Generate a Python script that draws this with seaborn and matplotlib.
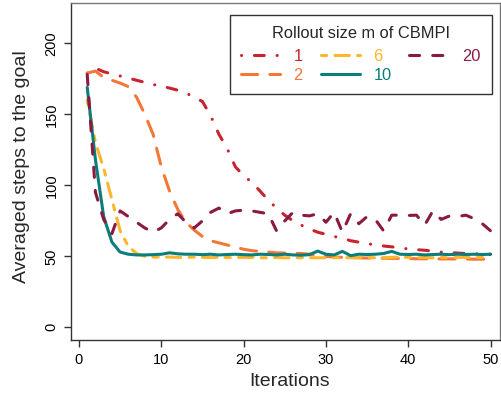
import numpy as np
import pandas as pd
import matplotlib
matplotlib.use("Agg")
import matplotlib.pyplot as plt
from matplotlib.lines import Line2D
import seaborn as sns

# ---- data ----
iterations = list(range(1, 51))
m_labels = ["1", "2", "6", "10", "20"]

m1 = [179, 182.5, 180, 178.5, 177, 175.5, 174, 172.5, 171, 170,
      168.5, 167, 165, 162, 159, 149, 136, 126, 113, 107,
      102, 96, 89.5, 84, 79, 75, 72, 69.3, 67, 65.5,
      64, 62.8, 61, 60, 59, 58, 57.3, 56.7, 56, 55.2,
      54.7, 54.3, 53.7, 53, 52.7, 52.3, 52, 51.8, 51.6, 51.5]
m2 = [179, 180.5, 176, 174, 172, 169.5, 162, 150, 136, 113,
      96, 83, 74, 68.5, 64, 61, 59.5, 58, 56.5, 55,
      54, 53.5, 53, 52.5, 52.3, 52.2, 52, 51.5, 51, 50,
      49.5, 49.3, 49, 49, 48.8, 48.7, 48.7, 48.6, 48.5, 48.5,
      48.3, 48.3, 48.2, 48.2, 48.2, 48.2, 48.1, 48, 48, 48]
m6 = [160, 130, 112, 90, 68, 57, 52, 50, 49.5, 49.5,
      49.5, 49.3, 49.3, 49.5, 49.3, 49.2, 49.3, 49.2, 49.2, 49.3,
      49.2, 49, 49, 49.2, 49, 49, 49, 49.1, 49, 49,
      49, 49.2, 49, 49.3, 49.2, 49, 49, 49.3, 49.5, 49.3,
      49, 49.2, 49, 49.2, 49, 49.3, 49.2, 49.3, 49.2, 49.5]
m10 = [169, 118, 78, 60, 53, 51.5, 51, 51, 51.2, 51.5,
       52.5, 51.8, 51.5, 51.5, 51.2, 51.5, 51, 51.3, 51.5, 51.2,
       51, 51.5, 51.3, 51, 51.5, 51, 50.8, 51.2, 53.7, 51.5,
       51, 53.5, 50.5, 51.5, 51.3, 51.5, 52, 53.5, 51.5, 51.3,
       51.5, 51, 51.3, 51.5, 51.2, 51.5, 51.3, 51.5, 51.3, 51.5]
m20 = [178, 95, 76, 66, 82, 78, 74, 70, 67, 70,
       76, 80, 74, 70, 75, 81, 84, 80, 82, 82.5,
       82, 81, 80, 68, 75, 81, 79, 78.5, 80, 74,
       81, 67, 80, 73, 78, 76, 68, 79, 79, 78.8,
       79, 72, 82, 76, 78.4, 78, 79, 76.5, 73, 68]

series = {"1": m1, "2": m2, "6": m6, "10": m10, "20": m20}

colors = {"1": "#C8232E", "2": "#F37736", "6": "#FDB52B",
          "10": "#0B7D7A", "20": "#8A1B40"}
dashes = {"1": (0.05, 4.2, 3.2, 4.2),
          "2": (5.3, 4.0),
          "6": (1.7, 2.7, 4.7, 2.7),
          "10": "",
          "20": (3.3, 4.3)}

df = pd.concat([pd.DataFrame({"Iteration": iterations, "Steps": v, "m": k})
                for k, v in series.items()], ignore_index=True)

# ---- style ----
sns.set_style("ticks")
plt.rcParams["font.family"] = ["Liberation Sans", "DejaVu Sans"]
plt.rcParams["lines.dash_capstyle"] = "round"
plt.rcParams["lines.solid_capstyle"] = "round"

W, H = 501, 396
fig = plt.figure(figsize=(W / 100, H / 100), dpi=100)
L, R, T, B = 71, 500, 3, 340
ax = fig.add_axes([L / W, 1 - B / H, (R - L) / W, (B - T) / H])

lw = 2.2
sns.lineplot(data=df, x="Iteration", y="Steps", hue="m", style="m",
             hue_order=m_labels, style_order=m_labels,
             palette=colors, dashes=dashes, linewidth=lw,
             legend=False, ax=ax)

ax.set_xlim(-0.97, 51.15)
ax.set_ylim(-8.9, 228.4)
ax.set_xticks([0, 10, 20, 30, 40, 50])
ax.set_yticks([0, 50, 100, 150, 200])
ax.tick_params(axis="both", direction="out", length=5, width=1.0,
               colors="#333333", labelsize=10.5, labelcolor="black")
ax.tick_params(axis="x", pad=4)
ax.tick_params(axis="y", pad=4)
for lab in ax.get_yticklabels():
    lab.set_rotation(90)
    lab.set_va("center")

for side in ["left", "bottom"]:
    ax.spines[side].set_color("#333333")
    ax.spines[side].set_linewidth(1.0)
for side in ["top", "right"]:
    ax.spines[side].set_color("#777777")
    ax.spines[side].set_linewidth(1.0)

ax.set_xlabel("Iterations", fontsize=14)
ax.set_ylabel("Averaged steps to the goal", fontsize=14)
ax.xaxis.set_label_coords((290 - L) / (R - L), -(382 - B) / (B - T), transform=ax.transAxes)
ax.yaxis.set_label_coords(-(L - 22) / (R - L), (B - 167) / (B - T), transform=ax.transAxes)
ax.xaxis.label.set_va("center")
ax.yaxis.label.set_va("center")

handles = []
for k in m_labels:
    h = Line2D([], [], color=colors[k], linewidth=lw)
    if dashes[k] != "":
        h.set_dashes(dashes[k])
    handles.append(h)

fs = 11.8
leg = ax.legend(handles, m_labels, ncol=3, title="Rollout size m of CBMPI",
                loc="upper right",
                bbox_to_anchor=((491.7 - L) / (R - L), 1 - (15 - T) / (B - T)),
                borderaxespad=0, frameon=True, fancybox=False,
                edgecolor="black", fontsize=fs, title_fontsize=fs,
                handlelength=2.4, handletextpad=0.8, columnspacing=1.1,
                labelspacing=0.25, borderpad=0.7, labelcolor="linecolor")
leg.get_frame().set_linewidth(1.0)
leg.get_frame().set_facecolor("white")
# extra gap between legend title and entries
leg._legend_box.sep = 0.25 * fs + 3 * 0.72

fig.savefig("out.png", dpi=100)
